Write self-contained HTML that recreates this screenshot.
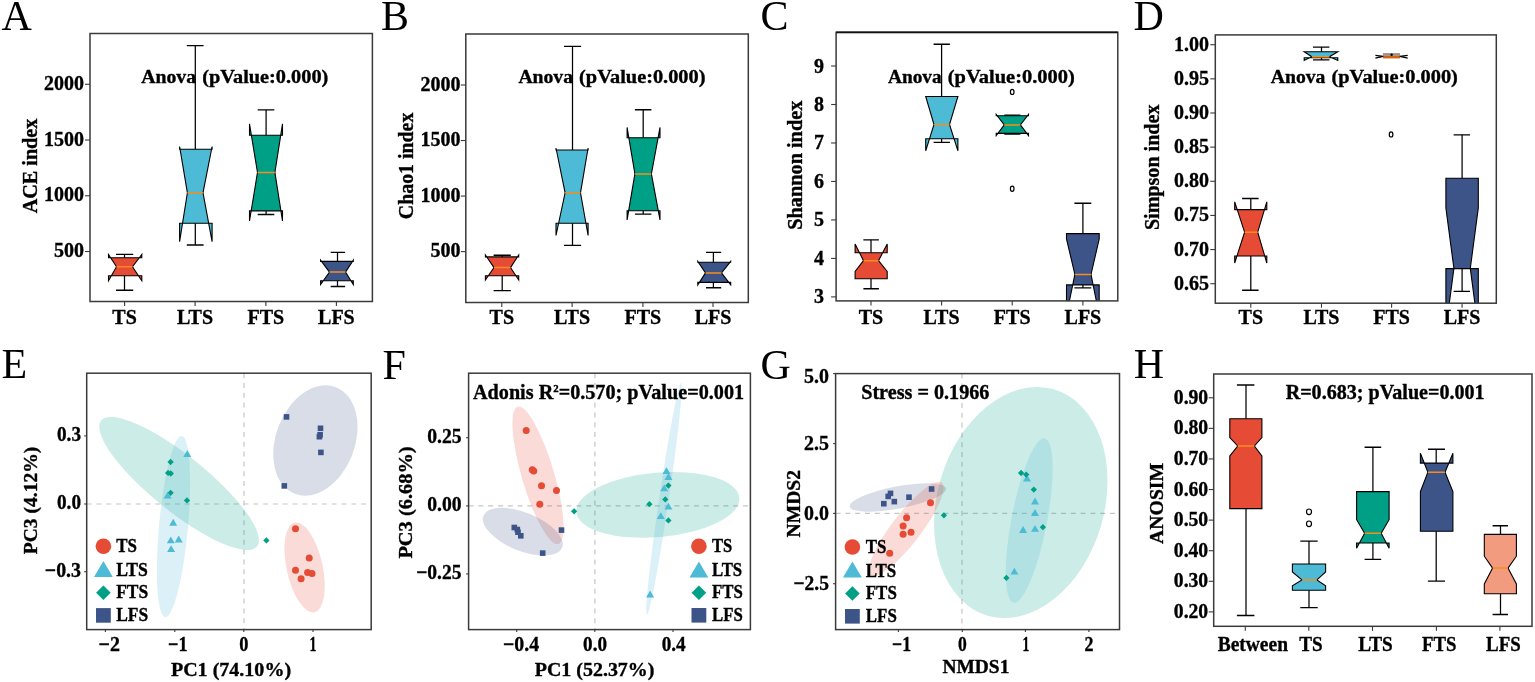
<!DOCTYPE html>
<html><head><meta charset="utf-8"><title>Figure</title>
<style>html,body{margin:0;padding:0;background:#fff;width:1535px;height:682px;overflow:hidden}svg{display:block}text[font-weight="bold"]{stroke:#000;stroke-width:0.35px}</style>
</head><body>
<svg width="1535" height="682" viewBox="0 0 1535 682" font-family="'Liberation Serif', 'Times New Roman', serif">
<defs><clipPath id="cA"><rect x="90" y="33.5" width="282.4" height="268"/></clipPath><clipPath id="cB"><rect x="465.8" y="34" width="282.5" height="268.5"/></clipPath><clipPath id="cC"><rect x="836.1" y="32.3" width="281.7" height="268.6"/></clipPath><clipPath id="cD"><rect x="1215.3" y="34.9" width="281" height="268.3"/></clipPath><clipPath id="cE"><rect x="86.7" y="373.2" width="284.5" height="256.4"/></clipPath><clipPath id="cF"><rect x="468.6" y="373.2" width="281.8" height="256.4"/></clipPath><clipPath id="cG"><rect x="835.6" y="373.6" width="283.9" height="256"/></clipPath><clipPath id="cH"><rect x="1213.7" y="374" width="318.3" height="252.3"/></clipPath></defs>
<rect width="1535" height="682" fill="#fff"/>
<text x="1.5" y="29.6" font-size="42" font-weight="normal" fill="#000">A</text>
<text x="381" y="29.6" font-size="42" font-weight="normal" fill="#000">B</text>
<text x="760.5" y="29.8" font-size="42" font-weight="normal" fill="#000">C</text>
<text x="1133.5" y="29.6" font-size="42" font-weight="normal" fill="#000">D</text>
<text x="1.5" y="378.2" font-size="42" font-weight="normal" fill="#000">E</text>
<text x="382.5" y="378.6" font-size="42" font-weight="normal" fill="#000">F</text>
<text x="760.5" y="378.6" font-size="42" font-weight="normal" fill="#000">G</text>
<text x="1133.8" y="378.4" font-size="42" font-weight="normal" fill="#000">H</text>
<g clip-path="url(#cA)">
<line x1="124.5" y1="257.7" x2="124.5" y2="254.4" stroke="#000" stroke-width="1.25"/>
<line x1="116" y1="254.4" x2="133.2" y2="254.4" stroke="#000" stroke-width="1.35"/>
<line x1="124.5" y1="275.8" x2="124.5" y2="290.2" stroke="#000" stroke-width="1.25"/>
<path d="M108.5 275.8 L141.8 275.8 L141.8 280.7 L132.5 266.7 L141.8 254.5 L141.8 257.7 L108.5 257.7 L108.5 254.5 L116.5 266.7 L108.5 280.7 Z" fill="#E64B35" stroke="#000" stroke-width="1.1" stroke-linejoin="miter"/>
<line x1="116" y1="290.2" x2="133.2" y2="290.2" stroke="#000" stroke-width="1.35"/>
<line x1="116.5" y1="266.7" x2="132.5" y2="266.7" stroke="#FA8C1E" stroke-width="1.5"/>
</g>
<g clip-path="url(#cA)">
<line x1="195.3" y1="149.2" x2="195.3" y2="45.6" stroke="#000" stroke-width="1.25"/>
<line x1="186.8" y1="45.6" x2="203.6" y2="45.6" stroke="#000" stroke-width="1.35"/>
<line x1="195.3" y1="223.2" x2="195.3" y2="245" stroke="#000" stroke-width="1.25"/>
<path d="M179.6 223.2 L212.1 223.2 L212.1 241.7 L203 192.8 L212.1 146.5 L212.1 149.2 L179.6 149.2 L179.6 146.5 L187.4 192.8 L179.6 241.7 Z" fill="#4DBBD5" stroke="#000" stroke-width="1.1" stroke-linejoin="miter"/>
<line x1="186.8" y1="245" x2="203.6" y2="245" stroke="#000" stroke-width="1.35"/>
<line x1="187.4" y1="192.8" x2="203" y2="192.8" stroke="#FA8C1E" stroke-width="1.5"/>
</g>
<g clip-path="url(#cA)">
<line x1="266.1" y1="135.2" x2="266.1" y2="109.9" stroke="#000" stroke-width="1.25"/>
<line x1="257.7" y1="109.9" x2="274.3" y2="109.9" stroke="#000" stroke-width="1.35"/>
<line x1="266.1" y1="210.9" x2="266.1" y2="214.5" stroke="#000" stroke-width="1.25"/>
<path d="M249.5 210.9 L282.5 210.9 L282.5 221 L274.9 172.4 L282.5 123.8 L282.5 135.2 L249.5 135.2 L249.5 123.8 L257.5 172.4 L249.5 221 Z" fill="#00A087" stroke="#000" stroke-width="1.1" stroke-linejoin="miter"/>
<line x1="257.7" y1="214.5" x2="274.3" y2="214.5" stroke="#000" stroke-width="1.35"/>
<line x1="257.5" y1="172.4" x2="274.9" y2="172.4" stroke="#FA8C1E" stroke-width="1.5"/>
</g>
<g clip-path="url(#cA)">
<line x1="337.5" y1="261.4" x2="337.5" y2="252.4" stroke="#000" stroke-width="1.25"/>
<line x1="330.7" y1="252.4" x2="345.1" y2="252.4" stroke="#000" stroke-width="1.35"/>
<line x1="337.5" y1="280.7" x2="337.5" y2="286.5" stroke="#000" stroke-width="1.25"/>
<path d="M320.6 280.7 L353.3 280.7 L353.3 284.5 L345.5 272.1 L353.3 260.2 L353.3 261.4 L320.6 261.4 L320.6 260.2 L329.5 272.1 L320.6 284.5 Z" fill="#3C5488" stroke="#000" stroke-width="1.1" stroke-linejoin="miter"/>
<line x1="330.7" y1="286.5" x2="345.1" y2="286.5" stroke="#000" stroke-width="1.35"/>
<line x1="329.5" y1="272.1" x2="345.5" y2="272.1" stroke="#FA8C1E" stroke-width="1.5"/>
</g>
<rect x="90" y="33.5" width="282.4" height="268" fill="none" stroke="#3a3a3a" stroke-width="1.5"/>
<line x1="85" y1="251.5" x2="90" y2="251.5" stroke="#3a3a3a" stroke-width="1.1"/>
<text x="84" y="257" font-size="21" font-weight="bold" fill="#000" text-anchor="end" textLength="30" lengthAdjust="spacingAndGlyphs">500</text>
<line x1="85" y1="195.76" x2="90" y2="195.76" stroke="#3a3a3a" stroke-width="1.1"/>
<text x="84" y="201.26" font-size="21" font-weight="bold" fill="#000" text-anchor="end" textLength="40" lengthAdjust="spacingAndGlyphs">1000</text>
<line x1="85" y1="140.03" x2="90" y2="140.03" stroke="#3a3a3a" stroke-width="1.1"/>
<text x="84" y="145.53" font-size="21" font-weight="bold" fill="#000" text-anchor="end" textLength="40" lengthAdjust="spacingAndGlyphs">1500</text>
<line x1="85" y1="84.29" x2="90" y2="84.29" stroke="#3a3a3a" stroke-width="1.1"/>
<text x="84" y="89.79" font-size="21" font-weight="bold" fill="#000" text-anchor="end" textLength="40" lengthAdjust="spacingAndGlyphs">2000</text>
<line x1="124.6" y1="301.5" x2="124.6" y2="306" stroke="#3a3a3a" stroke-width="1.1"/>
<text x="124.6" y="324.3" font-size="21" font-weight="bold" fill="#000" text-anchor="middle" textLength="24.46" lengthAdjust="spacingAndGlyphs">TS</text>
<line x1="195.1" y1="301.5" x2="195.1" y2="306" stroke="#3a3a3a" stroke-width="1.1"/>
<text x="195.1" y="324.3" font-size="21" font-weight="bold" fill="#000" text-anchor="middle" textLength="35.97" lengthAdjust="spacingAndGlyphs">LTS</text>
<line x1="265.9" y1="301.5" x2="265.9" y2="306" stroke="#3a3a3a" stroke-width="1.1"/>
<text x="265.9" y="324.3" font-size="21" font-weight="bold" fill="#000" text-anchor="middle" textLength="36.68" lengthAdjust="spacingAndGlyphs">FTS</text>
<line x1="336.4" y1="301.5" x2="336.4" y2="306" stroke="#3a3a3a" stroke-width="1.1"/>
<text x="336.4" y="324.3" font-size="21" font-weight="bold" fill="#000" text-anchor="middle" textLength="36.68" lengthAdjust="spacingAndGlyphs">LFS</text>
<text transform="translate(36.5 166) rotate(-90)" font-size="20" font-weight="bold" fill="#000" text-anchor="middle" textLength="94.7" lengthAdjust="spacingAndGlyphs">ACE index</text>
<text x="141.3" y="83.1" font-size="19.2" font-weight="bold" fill="#000" textLength="54.8" lengthAdjust="spacingAndGlyphs">Anova</text>
<text x="202.2" y="83.1" font-size="19.2" font-weight="bold" fill="#000" textLength="126.1" lengthAdjust="spacingAndGlyphs">(pValue:0.000)</text>
<g clip-path="url(#cB)">
<line x1="502.2" y1="256.9" x2="502.2" y2="255.2" stroke="#000" stroke-width="1.25"/>
<line x1="493.6" y1="255.2" x2="510.8" y2="255.2" stroke="#000" stroke-width="1.35"/>
<line x1="502.2" y1="275.8" x2="502.2" y2="290.6" stroke="#000" stroke-width="1.25"/>
<path d="M485.4 275.8 L518.7 275.8 L518.7 280 L510.5 267.6 L518.7 255 L518.7 256.9 L485.4 256.9 L485.4 255 L494 267.6 L485.4 280 Z" fill="#E64B35" stroke="#000" stroke-width="1.1" stroke-linejoin="miter"/>
<line x1="493.6" y1="290.6" x2="510.8" y2="290.6" stroke="#000" stroke-width="1.35"/>
<line x1="494" y1="267.6" x2="510.5" y2="267.6" stroke="#FA8C1E" stroke-width="1.5"/>
</g>
<g clip-path="url(#cB)">
<line x1="572.5" y1="150" x2="572.5" y2="46.4" stroke="#000" stroke-width="1.25"/>
<line x1="563.9" y1="46.4" x2="581.1" y2="46.4" stroke="#000" stroke-width="1.35"/>
<line x1="572.5" y1="223.2" x2="572.5" y2="245.4" stroke="#000" stroke-width="1.25"/>
<path d="M556 223.2 L588.1 223.2 L588.1 235.5 L580.5 192.8 L588.1 148 L588.1 150 L556 150 L556 148 L565.1 192.8 L556 235.5 Z" fill="#4DBBD5" stroke="#000" stroke-width="1.1" stroke-linejoin="miter"/>
<line x1="563.9" y1="245.4" x2="581.1" y2="245.4" stroke="#000" stroke-width="1.35"/>
<line x1="565.1" y1="192.8" x2="580.5" y2="192.8" stroke="#FA8C1E" stroke-width="1.5"/>
</g>
<g clip-path="url(#cB)">
<line x1="643.2" y1="137.7" x2="643.2" y2="109.7" stroke="#000" stroke-width="1.25"/>
<line x1="634.9" y1="109.7" x2="651.4" y2="109.7" stroke="#000" stroke-width="1.35"/>
<line x1="643.2" y1="210.8" x2="643.2" y2="214.1" stroke="#000" stroke-width="1.25"/>
<path d="M627.1 210.8 L660 210.8 L660 219.9 L651.4 173.9 L660 127.4 L660 137.7 L627.1 137.7 L627.1 127.4 L634.9 173.9 L627.1 219.9 Z" fill="#00A087" stroke="#000" stroke-width="1.1" stroke-linejoin="miter"/>
<line x1="634.9" y1="214.1" x2="651.4" y2="214.1" stroke="#000" stroke-width="1.35"/>
<line x1="634.9" y1="173.9" x2="651.4" y2="173.9" stroke="#FA8C1E" stroke-width="1.5"/>
</g>
<g clip-path="url(#cB)">
<line x1="713.4" y1="262.2" x2="713.4" y2="252.4" stroke="#000" stroke-width="1.25"/>
<line x1="706" y1="252.4" x2="721.2" y2="252.4" stroke="#000" stroke-width="1.35"/>
<line x1="713.4" y1="282.4" x2="713.4" y2="287.7" stroke="#000" stroke-width="1.25"/>
<path d="M697.8 282.4 L730.7 282.4 L730.7 284.8 L721.5 272.9 L730.7 261.4 L730.7 262.2 L697.8 262.2 L697.8 261.4 L705.5 272.9 L697.8 284.8 Z" fill="#3C5488" stroke="#000" stroke-width="1.1" stroke-linejoin="miter"/>
<line x1="706" y1="287.7" x2="721.2" y2="287.7" stroke="#000" stroke-width="1.35"/>
<line x1="705.5" y1="272.9" x2="721.5" y2="272.9" stroke="#FA8C1E" stroke-width="1.5"/>
</g>
<rect x="465.8" y="34" width="282.5" height="268.5" fill="none" stroke="#3a3a3a" stroke-width="1.5"/>
<line x1="460.8" y1="251.6" x2="465.8" y2="251.6" stroke="#3a3a3a" stroke-width="1.1"/>
<text x="460.5" y="257.1" font-size="21" font-weight="bold" fill="#000" text-anchor="end" textLength="30" lengthAdjust="spacingAndGlyphs">500</text>
<line x1="460.8" y1="196.06" x2="465.8" y2="196.06" stroke="#3a3a3a" stroke-width="1.1"/>
<text x="460.5" y="201.56" font-size="21" font-weight="bold" fill="#000" text-anchor="end" textLength="40" lengthAdjust="spacingAndGlyphs">1000</text>
<line x1="460.8" y1="140.53" x2="465.8" y2="140.53" stroke="#3a3a3a" stroke-width="1.1"/>
<text x="460.5" y="146.03" font-size="21" font-weight="bold" fill="#000" text-anchor="end" textLength="40" lengthAdjust="spacingAndGlyphs">1500</text>
<line x1="460.8" y1="85" x2="465.8" y2="85" stroke="#3a3a3a" stroke-width="1.1"/>
<text x="460.5" y="90.5" font-size="21" font-weight="bold" fill="#000" text-anchor="end" textLength="40" lengthAdjust="spacingAndGlyphs">2000</text>
<line x1="501.8" y1="302.5" x2="501.8" y2="307" stroke="#3a3a3a" stroke-width="1.1"/>
<text x="501.8" y="324.3" font-size="21" font-weight="bold" fill="#000" text-anchor="middle" textLength="24.46" lengthAdjust="spacingAndGlyphs">TS</text>
<line x1="572.1" y1="302.5" x2="572.1" y2="307" stroke="#3a3a3a" stroke-width="1.1"/>
<text x="572.1" y="324.3" font-size="21" font-weight="bold" fill="#000" text-anchor="middle" textLength="35.97" lengthAdjust="spacingAndGlyphs">LTS</text>
<line x1="642.9" y1="302.5" x2="642.9" y2="307" stroke="#3a3a3a" stroke-width="1.1"/>
<text x="642.9" y="324.3" font-size="21" font-weight="bold" fill="#000" text-anchor="middle" textLength="36.68" lengthAdjust="spacingAndGlyphs">FTS</text>
<line x1="713" y1="302.5" x2="713" y2="307" stroke="#3a3a3a" stroke-width="1.1"/>
<text x="713" y="324.3" font-size="21" font-weight="bold" fill="#000" text-anchor="middle" textLength="36.68" lengthAdjust="spacingAndGlyphs">LFS</text>
<text transform="translate(413 165.9) rotate(-90)" font-size="20" font-weight="bold" fill="#000" text-anchor="middle" textLength="106.5" lengthAdjust="spacingAndGlyphs">Chao1 index</text>
<text x="518.4" y="83.1" font-size="19.2" font-weight="bold" fill="#000" textLength="54.6" lengthAdjust="spacingAndGlyphs">Anova</text>
<text x="579.1" y="83.1" font-size="19.2" font-weight="bold" fill="#000" textLength="126.4" lengthAdjust="spacingAndGlyphs">(pValue:0.000)</text>
<g clip-path="url(#cC)">
<line x1="871" y1="252.7" x2="871" y2="239.8" stroke="#000" stroke-width="1.25"/>
<line x1="863.4" y1="239.8" x2="878.9" y2="239.8" stroke="#000" stroke-width="1.35"/>
<line x1="871" y1="278.7" x2="871" y2="288.7" stroke="#000" stroke-width="1.25"/>
<path d="M855.1 278.7 L887.2 278.7 L887.2 271.5 L878.5 260.7 L887.2 244 L887.2 252.7 L855.1 252.7 L855.1 244 L863.5 260.7 L855.1 271.5 Z" fill="#E64B35" stroke="#000" stroke-width="1.1" stroke-linejoin="miter"/>
<line x1="863.4" y1="288.7" x2="878.9" y2="288.7" stroke="#000" stroke-width="1.35"/>
<line x1="863.5" y1="260.7" x2="878.5" y2="260.7" stroke="#FA8C1E" stroke-width="1.5"/>
</g>
<g clip-path="url(#cC)">
<line x1="941.6" y1="96.5" x2="941.6" y2="44.2" stroke="#000" stroke-width="1.25"/>
<line x1="933.6" y1="44.2" x2="949.9" y2="44.2" stroke="#000" stroke-width="1.35"/>
<line x1="941.6" y1="138.7" x2="941.6" y2="142.4" stroke="#000" stroke-width="1.25"/>
<path d="M925.7 138.7 L957.9 138.7 L957.9 150.8 L949.5 124.5 L957.9 96.5 L957.9 96.5 L925.7 96.5 L925.7 96.5 L934 124.5 L925.7 150.8 Z" fill="#4DBBD5" stroke="#000" stroke-width="1.1" stroke-linejoin="miter"/>
<line x1="933.6" y1="142.4" x2="949.9" y2="142.4" stroke="#000" stroke-width="1.35"/>
<line x1="934" y1="124.5" x2="949.5" y2="124.5" stroke="#FA8C1E" stroke-width="1.5"/>
</g>
<g clip-path="url(#cC)">
<line x1="1012.3" y1="115.8" x2="1012.3" y2="115.1" stroke="#000" stroke-width="1.25"/>
<line x1="1004.3" y1="115.1" x2="1020.4" y2="115.1" stroke="#000" stroke-width="1.35"/>
<line x1="1012.3" y1="133.4" x2="1012.3" y2="134.1" stroke="#000" stroke-width="1.25"/>
<path d="M996.2 133.4 L1028.5 133.4 L1028.5 135.6 L1020.4 124.9 L1028.5 114.3 L1028.5 115.8 L996.2 115.8 L996.2 114.3 L1004.3 124.9 L996.2 135.6 Z" fill="#00A087" stroke="#000" stroke-width="1.1" stroke-linejoin="miter"/>
<line x1="1004.3" y1="134.1" x2="1020.4" y2="134.1" stroke="#000" stroke-width="1.35"/>
<line x1="1004.3" y1="124.9" x2="1020.4" y2="124.9" stroke="#FA8C1E" stroke-width="1.5"/>
</g>
<g clip-path="url(#cC)">
<line x1="1082.9" y1="233.6" x2="1082.9" y2="203.2" stroke="#000" stroke-width="1.25"/>
<line x1="1074.4" y1="203.2" x2="1091.3" y2="203.2" stroke="#000" stroke-width="1.35"/>
<line x1="1082.9" y1="284.9" x2="1082.9" y2="287.9" stroke="#000" stroke-width="1.25"/>
<path d="M1066.5 284.9 L1099.2 284.9 L1099.2 315 L1091 274.4 L1099.2 239 L1099.2 233.6 L1066.5 233.6 L1066.5 239 L1074.9 274.4 L1066.5 315 Z" fill="#3C5488" stroke="#000" stroke-width="1.1" stroke-linejoin="miter"/>
<line x1="1074.4" y1="287.9" x2="1091.3" y2="287.9" stroke="#000" stroke-width="1.35"/>
<line x1="1074.9" y1="274.4" x2="1091" y2="274.4" stroke="#FA8C1E" stroke-width="1.5"/>
</g>
<ellipse cx="1012.2" cy="91.9" rx="1.8" ry="2.6" fill="none" stroke="#000" stroke-width="1.2"/>
<ellipse cx="1012.2" cy="188.8" rx="1.8" ry="2.6" fill="none" stroke="#000" stroke-width="1.2"/>
<rect x="836.1" y="32.3" width="281.7" height="268.6" fill="none" stroke="#3a3a3a" stroke-width="1.5"/>
<line x1="836.1" y1="32.3" x2="1117.8" y2="32.3" stroke="#111" stroke-width="1.8"/>
<line x1="831.1" y1="296.9" x2="836.1" y2="296.9" stroke="#3a3a3a" stroke-width="1.1"/>
<text x="824" y="303.4" font-size="21" font-weight="bold" fill="#000" text-anchor="end" textLength="10" lengthAdjust="spacingAndGlyphs">3</text>
<line x1="831.1" y1="258.42" x2="836.1" y2="258.42" stroke="#3a3a3a" stroke-width="1.1"/>
<text x="824" y="264.92" font-size="21" font-weight="bold" fill="#000" text-anchor="end" textLength="10" lengthAdjust="spacingAndGlyphs">4</text>
<line x1="831.1" y1="219.94" x2="836.1" y2="219.94" stroke="#3a3a3a" stroke-width="1.1"/>
<text x="824" y="226.44" font-size="21" font-weight="bold" fill="#000" text-anchor="end" textLength="10" lengthAdjust="spacingAndGlyphs">5</text>
<line x1="831.1" y1="181.46" x2="836.1" y2="181.46" stroke="#3a3a3a" stroke-width="1.1"/>
<text x="824" y="187.96" font-size="21" font-weight="bold" fill="#000" text-anchor="end" textLength="10" lengthAdjust="spacingAndGlyphs">6</text>
<line x1="831.1" y1="142.98" x2="836.1" y2="142.98" stroke="#3a3a3a" stroke-width="1.1"/>
<text x="824" y="149.48" font-size="21" font-weight="bold" fill="#000" text-anchor="end" textLength="10" lengthAdjust="spacingAndGlyphs">7</text>
<line x1="831.1" y1="104.5" x2="836.1" y2="104.5" stroke="#3a3a3a" stroke-width="1.1"/>
<text x="824" y="111" font-size="21" font-weight="bold" fill="#000" text-anchor="end" textLength="10" lengthAdjust="spacingAndGlyphs">8</text>
<line x1="831.1" y1="66.02" x2="836.1" y2="66.02" stroke="#3a3a3a" stroke-width="1.1"/>
<text x="824" y="72.52" font-size="21" font-weight="bold" fill="#000" text-anchor="end" textLength="10" lengthAdjust="spacingAndGlyphs">9</text>
<line x1="871" y1="300.9" x2="871" y2="305.4" stroke="#3a3a3a" stroke-width="1.1"/>
<text x="871" y="323.5" font-size="21" font-weight="bold" fill="#000" text-anchor="middle" textLength="24.46" lengthAdjust="spacingAndGlyphs">TS</text>
<line x1="941.6" y1="300.9" x2="941.6" y2="305.4" stroke="#3a3a3a" stroke-width="1.1"/>
<text x="941.6" y="323.5" font-size="21" font-weight="bold" fill="#000" text-anchor="middle" textLength="35.97" lengthAdjust="spacingAndGlyphs">LTS</text>
<line x1="1012.2" y1="300.9" x2="1012.2" y2="305.4" stroke="#3a3a3a" stroke-width="1.1"/>
<text x="1012.2" y="323.5" font-size="21" font-weight="bold" fill="#000" text-anchor="middle" textLength="36.68" lengthAdjust="spacingAndGlyphs">FTS</text>
<line x1="1082.9" y1="300.9" x2="1082.9" y2="305.4" stroke="#3a3a3a" stroke-width="1.1"/>
<text x="1082.9" y="323.5" font-size="21" font-weight="bold" fill="#000" text-anchor="middle" textLength="36.68" lengthAdjust="spacingAndGlyphs">LFS</text>
<text transform="translate(801.8 165.2) rotate(-90)" font-size="20" font-weight="bold" fill="#000" text-anchor="middle" textLength="129" lengthAdjust="spacingAndGlyphs">Shannon index</text>
<text x="888" y="82.9" font-size="19.2" font-weight="bold" fill="#000" textLength="53.7" lengthAdjust="spacingAndGlyphs">Anova</text>
<text x="947.8" y="82.9" font-size="19.2" font-weight="bold" fill="#000" textLength="127" lengthAdjust="spacingAndGlyphs">(pValue:0.000)</text>
<g clip-path="url(#cD)">
<line x1="1250.8" y1="209.6" x2="1250.8" y2="198.5" stroke="#000" stroke-width="1.25"/>
<line x1="1242.1" y1="198.5" x2="1258.6" y2="198.5" stroke="#000" stroke-width="1.35"/>
<line x1="1250.8" y1="256" x2="1250.8" y2="290.2" stroke="#000" stroke-width="1.25"/>
<path d="M1234.7 256 L1266.8 256 L1266.8 263 L1257.7 232.2 L1266.8 201.8 L1266.8 209.6 L1234.7 209.6 L1234.7 201.8 L1244.6 232.2 L1234.7 263 Z" fill="#E64B35" stroke="#000" stroke-width="1.1" stroke-linejoin="miter"/>
<line x1="1242.1" y1="290.2" x2="1258.6" y2="290.2" stroke="#000" stroke-width="1.35"/>
<line x1="1244.6" y1="232.2" x2="1257.7" y2="232.2" stroke="#FA8C1E" stroke-width="1.5"/>
</g>
<g clip-path="url(#cD)">
<line x1="1321.5" y1="51.8" x2="1321.5" y2="47.1" stroke="#000" stroke-width="1.25"/>
<line x1="1313" y1="47.1" x2="1329.4" y2="47.1" stroke="#000" stroke-width="1.35"/>
<line x1="1321.5" y1="57.7" x2="1321.5" y2="59.9" stroke="#000" stroke-width="1.25"/>
<path d="M1304.2 57.7 L1337.8 57.7 L1337.8 60.4 L1329.4 56.7 L1337.8 51.8 L1337.8 51.8 L1304.2 51.8 L1304.2 51.8 L1311.8 56.7 L1304.2 60.4 Z" fill="#4DBBD5" stroke="#000" stroke-width="1.1" stroke-linejoin="miter"/>
<line x1="1313" y1="59.9" x2="1329.4" y2="59.9" stroke="#000" stroke-width="1.35"/>
<line x1="1311.8" y1="56.7" x2="1329.4" y2="56.7" stroke="#FA8C1E" stroke-width="1.5"/>
</g>
<rect x="1383" y="53.1" width="17" height="2.5" fill="#8d949b"/>
<rect x="1383" y="55.5" width="17" height="2.9" fill="#cf6414"/>
<path d="M1375.4 55.3 L1383.2 56.3 L1375.4 58.1" fill="none" stroke="#000" stroke-width="1.3"/>
<path d="M1407.7 55.3 L1399.8 56.3 L1407.7 58.1" fill="none" stroke="#000" stroke-width="1.3"/>
<circle cx="1391.6" cy="54.8" r="1.2" fill="#000"/>
<g clip-path="url(#cD)">
<line x1="1462.1" y1="178.2" x2="1462.1" y2="134.8" stroke="#000" stroke-width="1.25"/>
<line x1="1453.6" y1="134.8" x2="1470" y2="134.8" stroke="#000" stroke-width="1.35"/>
<line x1="1462.1" y1="268.6" x2="1462.1" y2="291.4" stroke="#000" stroke-width="1.25"/>
<path d="M1445.9 268.6 L1478.3 268.6 L1478.3 329 L1470.3 268.4 L1478.3 207.9 L1478.3 178.2 L1445.9 178.2 L1445.9 207.9 L1453.9 268.4 L1445.9 329 Z" fill="#3C5488" stroke="#000" stroke-width="1.1" stroke-linejoin="miter"/>
<line x1="1453.6" y1="291.4" x2="1470" y2="291.4" stroke="#000" stroke-width="1.35"/>
</g>
<ellipse cx="1391.1" cy="134.4" rx="1.8" ry="2.6" fill="none" stroke="#000" stroke-width="1.2"/>
<rect x="1215.3" y="34.9" width="281" height="268.3" fill="none" stroke="#3a3a3a" stroke-width="1.5"/>
<line x1="1210.3" y1="44.7" x2="1215.3" y2="44.7" stroke="#3a3a3a" stroke-width="1.1"/>
<text x="1209" y="50.7" font-size="21" font-weight="bold" fill="#000" text-anchor="end" textLength="35" lengthAdjust="spacingAndGlyphs">1.00</text>
<line x1="1210.3" y1="78.85" x2="1215.3" y2="78.85" stroke="#3a3a3a" stroke-width="1.1"/>
<text x="1209" y="84.85" font-size="21" font-weight="bold" fill="#000" text-anchor="end" textLength="35" lengthAdjust="spacingAndGlyphs">0.95</text>
<line x1="1210.3" y1="112.99" x2="1215.3" y2="112.99" stroke="#3a3a3a" stroke-width="1.1"/>
<text x="1209" y="118.99" font-size="21" font-weight="bold" fill="#000" text-anchor="end" textLength="35" lengthAdjust="spacingAndGlyphs">0.90</text>
<line x1="1210.3" y1="147.14" x2="1215.3" y2="147.14" stroke="#3a3a3a" stroke-width="1.1"/>
<text x="1209" y="153.14" font-size="21" font-weight="bold" fill="#000" text-anchor="end" textLength="35" lengthAdjust="spacingAndGlyphs">0.85</text>
<line x1="1210.3" y1="181.28" x2="1215.3" y2="181.28" stroke="#3a3a3a" stroke-width="1.1"/>
<text x="1209" y="187.28" font-size="21" font-weight="bold" fill="#000" text-anchor="end" textLength="35" lengthAdjust="spacingAndGlyphs">0.80</text>
<line x1="1210.3" y1="215.43" x2="1215.3" y2="215.43" stroke="#3a3a3a" stroke-width="1.1"/>
<text x="1209" y="221.43" font-size="21" font-weight="bold" fill="#000" text-anchor="end" textLength="35" lengthAdjust="spacingAndGlyphs">0.75</text>
<line x1="1210.3" y1="249.57" x2="1215.3" y2="249.57" stroke="#3a3a3a" stroke-width="1.1"/>
<text x="1209" y="255.57" font-size="21" font-weight="bold" fill="#000" text-anchor="end" textLength="35" lengthAdjust="spacingAndGlyphs">0.70</text>
<line x1="1210.3" y1="283.71" x2="1215.3" y2="283.71" stroke="#3a3a3a" stroke-width="1.1"/>
<text x="1209" y="289.71" font-size="21" font-weight="bold" fill="#000" text-anchor="end" textLength="35" lengthAdjust="spacingAndGlyphs">0.65</text>
<line x1="1250.8" y1="303.2" x2="1250.8" y2="307.7" stroke="#3a3a3a" stroke-width="1.1"/>
<text x="1250.8" y="324.2" font-size="21" font-weight="bold" fill="#000" text-anchor="middle" textLength="24.46" lengthAdjust="spacingAndGlyphs">TS</text>
<line x1="1321.5" y1="303.2" x2="1321.5" y2="307.7" stroke="#3a3a3a" stroke-width="1.1"/>
<text x="1321.5" y="324.2" font-size="21" font-weight="bold" fill="#000" text-anchor="middle" textLength="35.97" lengthAdjust="spacingAndGlyphs">LTS</text>
<line x1="1391.6" y1="303.2" x2="1391.6" y2="307.7" stroke="#3a3a3a" stroke-width="1.1"/>
<text x="1391.6" y="324.2" font-size="21" font-weight="bold" fill="#000" text-anchor="middle" textLength="36.68" lengthAdjust="spacingAndGlyphs">FTS</text>
<line x1="1462.1" y1="303.2" x2="1462.1" y2="307.7" stroke="#3a3a3a" stroke-width="1.1"/>
<text x="1462.1" y="324.2" font-size="21" font-weight="bold" fill="#000" text-anchor="middle" textLength="36.68" lengthAdjust="spacingAndGlyphs">LFS</text>
<text transform="translate(1159 167.3) rotate(-90)" font-size="20" font-weight="bold" fill="#000" text-anchor="middle" textLength="125.6" lengthAdjust="spacingAndGlyphs">Simpson index</text>
<text x="1270.8" y="83.2" font-size="19.2" font-weight="bold" fill="#000" textLength="54.6" lengthAdjust="spacingAndGlyphs">Anova</text>
<text x="1331.5" y="83.2" font-size="19.2" font-weight="bold" fill="#000" textLength="126.4" lengthAdjust="spacingAndGlyphs">(pValue:0.000)</text>
<line x1="244" y1="373.2" x2="244" y2="629.6" stroke="#c6c6c6" stroke-width="1.2" stroke-dasharray="5 4.8"/>
<line x1="86.7" y1="504" x2="371.2" y2="504" stroke="#c6c6c6" stroke-width="1.2" stroke-dasharray="5 4.8"/>
<g clip-path="url(#cE)"><ellipse cx="179.1" cy="483.5" rx="100.2" ry="27.7" transform="rotate(38.9 179.1 483.5)" fill="#00A087" fill-opacity="0.2"/></g>
<g clip-path="url(#cE)"><ellipse cx="173.5" cy="526.6" rx="91" ry="14.5" transform="rotate(95.2 173.5 526.6)" fill="#4DBBD5" fill-opacity="0.2"/></g>
<g clip-path="url(#cE)"><ellipse cx="304.6" cy="567.4" rx="45.9" ry="18" transform="rotate(77.6 304.6 567.4)" fill="#E64B35" fill-opacity="0.2"/></g>
<g clip-path="url(#cE)"><ellipse cx="315.4" cy="440.5" rx="57.1" ry="39.5" transform="rotate(-69 315.4 440.5)" fill="#3C5488" fill-opacity="0.2"/></g>
<rect x="283.7" y="414.1" width="5.6" height="5.6" fill="#3C5488"/>
<rect x="317.7" y="425.5" width="5.6" height="5.6" fill="#3C5488"/>
<rect x="317.3" y="432" width="5.6" height="5.6" fill="#3C5488"/>
<rect x="316.6" y="433.9" width="5.6" height="5.6" fill="#3C5488"/>
<rect x="318.1" y="449.6" width="5.6" height="5.6" fill="#3C5488"/>
<rect x="281.5" y="483.1" width="5.6" height="5.6" fill="#3C5488"/>
<polygon points="170.6,458.85 173.75,462 170.6,465.15 167.45,462" fill="#00A087"/>
<polygon points="168.1,469.75 171.25,472.9 168.1,476.05 164.95,472.9" fill="#00A087"/>
<polygon points="170.8,470.35 173.95,473.5 170.8,476.65 167.65,473.5" fill="#00A087"/>
<polygon points="170.6,489.65 173.75,492.8 170.6,495.95 167.45,492.8" fill="#00A087"/>
<polygon points="187,497.25 190.15,500.4 187,503.55 183.85,500.4" fill="#00A087"/>
<polygon points="266.4,537.25 269.55,540.4 266.4,543.55 263.25,540.4" fill="#00A087"/>
<polygon points="187.3,450.12 183.3,457.02 191.3,457.02" fill="#4DBBD5"/>
<polygon points="167.6,491.72 163.6,498.62 171.6,498.62" fill="#4DBBD5"/>
<polygon points="173.2,518.82 169.2,525.72 177.2,525.72" fill="#4DBBD5"/>
<polygon points="170.8,536.42 166.8,543.32 174.8,543.32" fill="#4DBBD5"/>
<polygon points="178.7,535.52 174.7,542.42 182.7,542.42" fill="#4DBBD5"/>
<polygon points="171.1,545.22 167.1,552.12 175.1,552.12" fill="#4DBBD5"/>
<circle cx="295.5" cy="528.8" r="3.5" fill="#E64B35"/>
<circle cx="309.2" cy="558" r="3.5" fill="#E64B35"/>
<circle cx="295.5" cy="570.2" r="3.5" fill="#E64B35"/>
<circle cx="307.6" cy="572.6" r="3.5" fill="#E64B35"/>
<circle cx="312" cy="573.5" r="3.5" fill="#E64B35"/>
<circle cx="301.1" cy="578.8" r="3.5" fill="#E64B35"/>
<circle cx="103.4" cy="546.2" r="7.8" fill="#E64B35"/>
<polygon points="103.4,561 94,577.1 112.8,577.1" fill="#4DBBD5"/>
<polygon points="103.4,585.5 110.7,592.8 103.4,600.1 96.1,592.8" fill="#00A087"/>
<rect x="96" y="608.1" width="14.8" height="14.6" fill="#3C5488"/>
<text x="116.2" y="552" font-size="19" font-weight="bold" fill="#000" textLength="20.7" lengthAdjust="spacingAndGlyphs">TS</text>
<text x="116.2" y="575.8" font-size="19" font-weight="bold" fill="#000" textLength="31.7" lengthAdjust="spacingAndGlyphs">LTS</text>
<text x="116.2" y="597.8" font-size="19" font-weight="bold" fill="#000" textLength="32" lengthAdjust="spacingAndGlyphs">FTS</text>
<text x="116.2" y="620.7" font-size="19" font-weight="bold" fill="#000" textLength="32" lengthAdjust="spacingAndGlyphs">LFS</text>
<rect x="86.7" y="373.2" width="284.5" height="256.4" fill="none" stroke="#3a3a3a" stroke-width="1.5"/>
<line x1="84.2" y1="435.9" x2="86.7" y2="435.9" stroke="#3a3a3a" stroke-width="1.1"/>
<text x="81" y="441" font-size="21" font-weight="bold" fill="#000" text-anchor="end" textLength="24" lengthAdjust="spacingAndGlyphs">0.3</text>
<line x1="84.2" y1="504" x2="86.7" y2="504" stroke="#3a3a3a" stroke-width="1.1"/>
<text x="81" y="509" font-size="21" font-weight="bold" fill="#000" text-anchor="end" textLength="24" lengthAdjust="spacingAndGlyphs">0.0</text>
<line x1="84.2" y1="571.7" x2="86.7" y2="571.7" stroke="#3a3a3a" stroke-width="1.1"/>
<text x="81" y="577.2" font-size="21" font-weight="bold" fill="#000" text-anchor="end" textLength="36.2" lengthAdjust="spacingAndGlyphs">&#8722;0.3</text>
<line x1="105.4" y1="629.6" x2="105.4" y2="632.1" stroke="#3a3a3a" stroke-width="1.1"/>
<line x1="174.8" y1="629.6" x2="174.8" y2="632.1" stroke="#3a3a3a" stroke-width="1.1"/>
<line x1="243.8" y1="629.6" x2="243.8" y2="632.1" stroke="#3a3a3a" stroke-width="1.1"/>
<line x1="313" y1="629.6" x2="313" y2="632.1" stroke="#3a3a3a" stroke-width="1.1"/>
<text x="98.6" y="651.3" font-size="21" font-weight="bold" fill="#000" textLength="21.4" lengthAdjust="spacingAndGlyphs">&#8722;2</text>
<text x="168" y="651.3" font-size="21" font-weight="bold" fill="#000" textLength="19.5" lengthAdjust="spacingAndGlyphs">&#8722;1</text>
<text x="239.3" y="651.3" font-size="21" font-weight="bold" fill="#000" textLength="9.2" lengthAdjust="spacingAndGlyphs">0</text>
<text x="309.6" y="651.3" font-size="21" font-weight="bold" fill="#000" textLength="6.9" lengthAdjust="spacingAndGlyphs">1</text>
<text x="170.9" y="675.7" font-size="19.5" font-weight="bold" fill="#000" textLength="120.2" lengthAdjust="spacingAndGlyphs">PC1 (74.10%)</text>
<text transform="translate(37.3 500.5) rotate(-90)" font-size="19.5" font-weight="bold" fill="#000" text-anchor="middle" textLength="107.4" lengthAdjust="spacingAndGlyphs">PC3 (4.12%)</text>
<line x1="594.9" y1="373.2" x2="594.9" y2="629.6" stroke="#c6c6c6" stroke-width="1.2" stroke-dasharray="5 4.8"/>
<line x1="468.6" y1="505.9" x2="750.4" y2="505.9" stroke="#c6c6c6" stroke-width="1.2" stroke-dasharray="5 4.8"/>
<g clip-path="url(#cF)"><ellipse cx="538" cy="475.3" rx="71.6" ry="16.2" transform="rotate(73.5 538 475.3)" fill="#E64B35" fill-opacity="0.2"/></g>
<g clip-path="url(#cF)"><ellipse cx="522.8" cy="531.7" rx="42.5" ry="19.1" transform="rotate(22.2 522.8 531.7)" fill="#3C5488" fill-opacity="0.2"/></g>
<g clip-path="url(#cF)"><ellipse cx="657.9" cy="504.9" rx="81.8" ry="32.2" transform="rotate(-5.1 657.9 504.9)" fill="#00A087" fill-opacity="0.2"/></g>
<g clip-path="url(#cF)"><ellipse cx="664" cy="498.8" rx="117" ry="4.8" transform="rotate(98.4 664 498.8)" fill="#4DBBD5" fill-opacity="0.2"/></g>
<circle cx="526.2" cy="430.4" r="3.5" fill="#E64B35"/>
<circle cx="532.3" cy="469.7" r="3.5" fill="#E64B35"/>
<circle cx="533.7" cy="471.1" r="3.5" fill="#E64B35"/>
<circle cx="541.5" cy="485.8" r="3.5" fill="#E64B35"/>
<circle cx="556.5" cy="490.6" r="3.5" fill="#E64B35"/>
<circle cx="539.8" cy="504.3" r="3.5" fill="#E64B35"/>
<rect x="511.5" y="524.7" width="5.6" height="5.6" fill="#3C5488"/>
<rect x="514.5" y="526.7" width="5.6" height="5.6" fill="#3C5488"/>
<rect x="515.2" y="529.4" width="5.6" height="5.6" fill="#3C5488"/>
<rect x="518" y="533" width="5.6" height="5.6" fill="#3C5488"/>
<rect x="558.7" y="527.3" width="5.6" height="5.6" fill="#3C5488"/>
<rect x="539.9" y="550.3" width="5.6" height="5.6" fill="#3C5488"/>
<polygon points="668.4,482.45 671.55,485.6 668.4,488.75 665.25,485.6" fill="#00A087"/>
<polygon points="665.3,496.25 668.45,499.4 665.3,502.55 662.15,499.4" fill="#00A087"/>
<polygon points="649.4,501.05 652.55,504.2 649.4,507.35 646.25,504.2" fill="#00A087"/>
<polygon points="668.4,517.25 671.55,520.4 668.4,523.55 665.25,520.4" fill="#00A087"/>
<polygon points="574.1,508.15 577.25,511.3 574.1,514.45 570.95,511.3" fill="#00A087"/>
<polygon points="666.5,467.22 662.5,474.12 670.5,474.12" fill="#4DBBD5"/>
<polygon points="668.4,473.02 664.4,479.92 672.4,479.92" fill="#4DBBD5"/>
<polygon points="664.2,484.42 660.2,491.32 668.2,491.32" fill="#4DBBD5"/>
<polygon points="668.4,502.72 664.4,509.62 672.4,509.62" fill="#4DBBD5"/>
<polygon points="660.8,512.22 656.8,519.12 664.8,519.12" fill="#4DBBD5"/>
<polygon points="650.1,590.52 646.1,597.42 654.1,597.42" fill="#4DBBD5"/>
<circle cx="698.9" cy="546.2" r="7.8" fill="#E64B35"/>
<polygon points="698.9,561.5 689.5,577.6 708.3,577.6" fill="#4DBBD5"/>
<polygon points="698.9,585.5 706.2,592.8 698.9,600.1 691.6,592.8" fill="#00A087"/>
<rect x="691.5" y="608" width="14.8" height="14.6" fill="#3C5488"/>
<text x="712" y="551.8" font-size="19" font-weight="bold" fill="#000" textLength="20.3" lengthAdjust="spacingAndGlyphs">TS</text>
<text x="712" y="576" font-size="19" font-weight="bold" fill="#000" textLength="30.2" lengthAdjust="spacingAndGlyphs">LTS</text>
<text x="712" y="597.8" font-size="19" font-weight="bold" fill="#000" textLength="30.8" lengthAdjust="spacingAndGlyphs">FTS</text>
<text x="712" y="620.7" font-size="19" font-weight="bold" fill="#000" textLength="30.8" lengthAdjust="spacingAndGlyphs">LFS</text>
<rect x="468.6" y="373.2" width="281.8" height="256.4" fill="none" stroke="#3a3a3a" stroke-width="1.5"/>
<line x1="466.1" y1="437.7" x2="468.6" y2="437.7" stroke="#3a3a3a" stroke-width="1.1"/>
<text x="461.6" y="443.2" font-size="21" font-weight="bold" fill="#000" text-anchor="end" textLength="34.4" lengthAdjust="spacingAndGlyphs">0.25</text>
<line x1="466.1" y1="505.9" x2="468.6" y2="505.9" stroke="#3a3a3a" stroke-width="1.1"/>
<text x="461.6" y="511.4" font-size="21" font-weight="bold" fill="#000" text-anchor="end" textLength="34.4" lengthAdjust="spacingAndGlyphs">0.00</text>
<line x1="466.1" y1="573.9" x2="468.6" y2="573.9" stroke="#3a3a3a" stroke-width="1.1"/>
<text x="461.6" y="579.4" font-size="21" font-weight="bold" fill="#000" text-anchor="end" textLength="45.4" lengthAdjust="spacingAndGlyphs">&#8722;0.25</text>
<line x1="516.7" y1="629.6" x2="516.7" y2="632.1" stroke="#3a3a3a" stroke-width="1.1"/>
<line x1="594.8" y1="629.6" x2="594.8" y2="632.1" stroke="#3a3a3a" stroke-width="1.1"/>
<line x1="673" y1="629.6" x2="673" y2="632.1" stroke="#3a3a3a" stroke-width="1.1"/>
<text x="503" y="651.3" font-size="21" font-weight="bold" fill="#000" textLength="36.1" lengthAdjust="spacingAndGlyphs">&#8722;0.4</text>
<text x="583.1" y="651.3" font-size="21" font-weight="bold" fill="#000" textLength="23.9" lengthAdjust="spacingAndGlyphs">0.0</text>
<text x="661.7" y="651.3" font-size="21" font-weight="bold" fill="#000" textLength="24" lengthAdjust="spacingAndGlyphs">0.4</text>
<text x="534.8" y="675.7" font-size="19.5" font-weight="bold" fill="#000" textLength="119.6" lengthAdjust="spacingAndGlyphs">PC1 (52.37%)</text>
<text transform="translate(411.5 502.5) rotate(-90)" font-size="19.5" font-weight="bold" fill="#000" text-anchor="middle" textLength="112.2" lengthAdjust="spacingAndGlyphs">PC3 (6.68%)</text>
<text x="473" y="398.8" font-size="20.5" font-weight="bold" textLength="271.1" lengthAdjust="spacingAndGlyphs">Adonis R<tspan font-size="11" dy="-7">2</tspan><tspan dy="7">=0.570; pValue=0.001</tspan></text>
<line x1="962" y1="373.6" x2="962" y2="629.6" stroke="#c6c6c6" stroke-width="1.2" stroke-dasharray="5 4.8"/>
<line x1="835.6" y1="513.4" x2="1119.5" y2="513.4" stroke="#c6c6c6" stroke-width="1.2" stroke-dasharray="5 4.8"/>
<g clip-path="url(#cG)"><ellipse cx="1020.8" cy="502.5" rx="117.9" ry="83.5" transform="rotate(-73.7 1020.8 502.5)" fill="#00A087" fill-opacity="0.2"/></g>
<g clip-path="url(#cG)"><ellipse cx="1029.2" cy="520.5" rx="83.6" ry="17.8" transform="rotate(-79.2 1029.2 520.5)" fill="#4DBBD5" fill-opacity="0.2"/></g>
<g clip-path="url(#cG)"><ellipse cx="897.9" cy="497.5" rx="49" ry="11.1" transform="rotate(-10.7 897.9 497.5)" fill="#3C5488" fill-opacity="0.2"/></g>
<g clip-path="url(#cG)"><ellipse cx="906.2" cy="529" rx="58.5" ry="14.6" transform="rotate(-52.5 906.2 529)" fill="#E64B35" fill-opacity="0.2"/></g>
<rect x="881" y="500.9" width="5.6" height="5.6" fill="#3C5488"/>
<rect x="885.4" y="493.6" width="5.6" height="5.6" fill="#3C5488"/>
<rect x="887.7" y="490.6" width="5.6" height="5.6" fill="#3C5488"/>
<rect x="891.5" y="498.8" width="5.6" height="5.6" fill="#3C5488"/>
<rect x="906.2" y="494.4" width="5.6" height="5.6" fill="#3C5488"/>
<rect x="928.8" y="486.2" width="5.6" height="5.6" fill="#3C5488"/>
<circle cx="930.5" cy="502.8" r="3.5" fill="#E64B35"/>
<circle cx="906.6" cy="517.7" r="3.5" fill="#E64B35"/>
<circle cx="903.1" cy="526.1" r="3.5" fill="#E64B35"/>
<circle cx="903.1" cy="534.2" r="3.5" fill="#E64B35"/>
<circle cx="911" cy="532.2" r="3.5" fill="#E64B35"/>
<circle cx="889.7" cy="553.3" r="3.5" fill="#E64B35"/>
<polygon points="1027,474.62 1023,481.52 1031,481.52" fill="#4DBBD5"/>
<polygon points="1035,497.62 1031,504.52 1039,504.52" fill="#4DBBD5"/>
<polygon points="1035,509.12 1031,516.02 1039,516.02" fill="#4DBBD5"/>
<polygon points="1023.1,526.12 1019.1,533.02 1027.1,533.02" fill="#4DBBD5"/>
<polygon points="1035,524.92 1031,531.82 1039,531.82" fill="#4DBBD5"/>
<polygon points="1014.4,567.72 1010.4,574.62 1018.4,574.62" fill="#4DBBD5"/>
<polygon points="1021.1,469.85 1024.25,473 1021.1,476.15 1017.95,473" fill="#00A087"/>
<polygon points="1026.2,471.45 1029.35,474.6 1026.2,477.75 1023.05,474.6" fill="#00A087"/>
<polygon points="1033.8,486.45 1036.95,489.6 1033.8,492.75 1030.65,489.6" fill="#00A087"/>
<polygon points="1042.9,524.05 1046.05,527.2 1042.9,530.35 1039.75,527.2" fill="#00A087"/>
<polygon points="1006.4,574.75 1009.55,577.9 1006.4,581.05 1003.25,577.9" fill="#00A087"/>
<polygon points="943.9,512.15 947.05,515.3 943.9,518.45 940.75,515.3" fill="#00A087"/>
<circle cx="852.4" cy="547" r="7.8" fill="#E64B35"/>
<polygon points="852.4,561.5 843,577.6 861.8,577.6" fill="#4DBBD5"/>
<polygon points="852.4,586.2 859.7,593.5 852.4,600.8 845.1,593.5" fill="#00A087"/>
<rect x="845" y="609" width="14.8" height="14.6" fill="#3C5488"/>
<text x="865.8" y="552.6" font-size="19" font-weight="bold" fill="#000" textLength="20.7" lengthAdjust="spacingAndGlyphs">TS</text>
<text x="865.8" y="576.9" font-size="19" font-weight="bold" fill="#000" textLength="30.5" lengthAdjust="spacingAndGlyphs">LTS</text>
<text x="865.8" y="598.5" font-size="19" font-weight="bold" fill="#000" textLength="31" lengthAdjust="spacingAndGlyphs">FTS</text>
<text x="865.8" y="621.6" font-size="19" font-weight="bold" fill="#000" textLength="31" lengthAdjust="spacingAndGlyphs">LFS</text>
<rect x="835.6" y="373.6" width="283.9" height="256" fill="none" stroke="#3a3a3a" stroke-width="1.5"/>
<line x1="833.1" y1="373.6" x2="835.6" y2="373.6" stroke="#3a3a3a" stroke-width="1.1"/>
<text x="829" y="383.3" font-size="21" font-weight="bold" fill="#000" text-anchor="end" textLength="24.9" lengthAdjust="spacingAndGlyphs">5.0</text>
<line x1="833.1" y1="443.6" x2="835.6" y2="443.6" stroke="#3a3a3a" stroke-width="1.1"/>
<text x="829" y="449.6" font-size="21" font-weight="bold" fill="#000" text-anchor="end" textLength="24.9" lengthAdjust="spacingAndGlyphs">2.5</text>
<line x1="833.1" y1="513.4" x2="835.6" y2="513.4" stroke="#3a3a3a" stroke-width="1.1"/>
<text x="829" y="520.3" font-size="21" font-weight="bold" fill="#000" text-anchor="end" textLength="24.9" lengthAdjust="spacingAndGlyphs">0.0</text>
<line x1="833.1" y1="583.7" x2="835.6" y2="583.7" stroke="#3a3a3a" stroke-width="1.1"/>
<text x="829" y="589.5" font-size="21" font-weight="bold" fill="#000" text-anchor="end" textLength="35.5" lengthAdjust="spacingAndGlyphs">&#8722;2.5</text>
<line x1="898.4" y1="629.6" x2="898.4" y2="632.1" stroke="#3a3a3a" stroke-width="1.1"/>
<line x1="962.3" y1="629.6" x2="962.3" y2="632.1" stroke="#3a3a3a" stroke-width="1.1"/>
<line x1="1025.4" y1="629.6" x2="1025.4" y2="632.1" stroke="#3a3a3a" stroke-width="1.1"/>
<line x1="1088.9" y1="629.6" x2="1088.9" y2="632.1" stroke="#3a3a3a" stroke-width="1.1"/>
<text x="892.1" y="651.3" font-size="21" font-weight="bold" fill="#000" textLength="19" lengthAdjust="spacingAndGlyphs">&#8722;1</text>
<text x="958" y="651.3" font-size="21" font-weight="bold" fill="#000" textLength="8.8" lengthAdjust="spacingAndGlyphs">0</text>
<text x="1022.5" y="651.3" font-size="21" font-weight="bold" fill="#000" textLength="6.8" lengthAdjust="spacingAndGlyphs">1</text>
<text x="1084.4" y="651.3" font-size="21" font-weight="bold" fill="#000" textLength="9" lengthAdjust="spacingAndGlyphs">2</text>
<text x="942.4" y="673.2" font-size="19.5" font-weight="bold" fill="#000" textLength="67" lengthAdjust="spacingAndGlyphs">NMDS1</text>
<text transform="translate(799.6 503.7) rotate(-90)" font-size="19.5" font-weight="bold" fill="#000" text-anchor="middle" textLength="67.4" lengthAdjust="spacingAndGlyphs">NMDS2</text>
<text x="861.2" y="399" font-size="20" font-weight="bold" fill="#000" textLength="128.2" lengthAdjust="spacingAndGlyphs">Stress = 0.1966</text>
<g clip-path="url(#cH)">
<line x1="1246" y1="418.7" x2="1246" y2="385" stroke="#000" stroke-width="1.25"/>
<line x1="1236.9" y1="385" x2="1254.4" y2="385" stroke="#000" stroke-width="1.35"/>
<line x1="1246" y1="508.6" x2="1246" y2="615.5" stroke="#000" stroke-width="1.25"/>
<path d="M1229.8 508.6 L1261.9 508.6 L1261.9 456 L1254.4 446 L1261.9 437.5 L1261.9 418.7 L1229.8 418.7 L1229.8 437.5 L1237.7 446 L1229.8 456 Z" fill="#E64B35" stroke="#000" stroke-width="1.1" stroke-linejoin="miter"/>
<line x1="1236.9" y1="615.5" x2="1254.4" y2="615.5" stroke="#000" stroke-width="1.35"/>
<line x1="1237.7" y1="446" x2="1254.4" y2="446" stroke="#FA8C1E" stroke-width="1.5"/>
</g>
<g clip-path="url(#cH)">
<line x1="1309" y1="564" x2="1309" y2="541.1" stroke="#000" stroke-width="1.25"/>
<line x1="1300.3" y1="541.1" x2="1317.7" y2="541.1" stroke="#000" stroke-width="1.35"/>
<line x1="1309" y1="590.2" x2="1309" y2="607.6" stroke="#000" stroke-width="1.25"/>
<path d="M1292.4 590.2 L1325.6 590.2 L1325.6 585.8 L1316.9 579.9 L1325.6 572 L1325.6 564 L1292.4 564 L1292.4 572 L1301.9 579.9 L1292.4 585.8 Z" fill="#4DBBD5" stroke="#000" stroke-width="1.1" stroke-linejoin="miter"/>
<line x1="1300.3" y1="607.6" x2="1317.7" y2="607.6" stroke="#000" stroke-width="1.35"/>
<line x1="1301.9" y1="579.9" x2="1316.9" y2="579.9" stroke="#FA8C1E" stroke-width="1.5"/>
</g>
<g clip-path="url(#cH)">
<line x1="1372.9" y1="491.6" x2="1372.9" y2="447.2" stroke="#000" stroke-width="1.25"/>
<line x1="1364.6" y1="447.2" x2="1381.2" y2="447.2" stroke="#000" stroke-width="1.35"/>
<line x1="1372.9" y1="543" x2="1372.9" y2="559.3" stroke="#000" stroke-width="1.25"/>
<path d="M1356.6 543 L1389.1 543 L1389.1 548.2 L1381.2 533.2 L1389.1 519.7 L1389.1 491.6 L1356.6 491.6 L1356.6 519.7 L1364.6 533.2 L1356.6 548.2 Z" fill="#00A087" stroke="#000" stroke-width="1.1" stroke-linejoin="miter"/>
<line x1="1364.6" y1="559.3" x2="1381.2" y2="559.3" stroke="#000" stroke-width="1.35"/>
<line x1="1364.6" y1="533.2" x2="1381.2" y2="533.2" stroke="#FA8C1E" stroke-width="1.5"/>
</g>
<g clip-path="url(#cH)">
<line x1="1436.2" y1="463.1" x2="1436.2" y2="449.2" stroke="#000" stroke-width="1.25"/>
<line x1="1427.9" y1="449.2" x2="1445" y2="449.2" stroke="#000" stroke-width="1.35"/>
<line x1="1436.2" y1="531.2" x2="1436.2" y2="581.1" stroke="#000" stroke-width="1.25"/>
<path d="M1420.4 531.2 L1452.9 531.2 L1452.9 491.5 L1445 472.2 L1452.9 453.2 L1452.9 463.1 L1420.4 463.1 L1420.4 453.2 L1427.9 472.2 L1420.4 491.5 Z" fill="#3C5488" stroke="#000" stroke-width="1.1" stroke-linejoin="miter"/>
<line x1="1427.9" y1="581.1" x2="1445" y2="581.1" stroke="#000" stroke-width="1.35"/>
<line x1="1427.9" y1="472.2" x2="1445" y2="472.2" stroke="#FA8C1E" stroke-width="1.5"/>
</g>
<g clip-path="url(#cH)">
<line x1="1500.5" y1="534.4" x2="1500.5" y2="525.7" stroke="#000" stroke-width="1.25"/>
<line x1="1492.6" y1="525.7" x2="1508" y2="525.7" stroke="#000" stroke-width="1.35"/>
<line x1="1500.5" y1="593.8" x2="1500.5" y2="614.5" stroke="#000" stroke-width="1.25"/>
<path d="M1484.3 593.8 L1516.4 593.8 L1516.4 584 L1508 568.1 L1516.4 556.2 L1516.4 534.4 L1484.3 534.4 L1484.3 556.2 L1492.6 568.1 L1484.3 584 Z" fill="#F39B7F" stroke="#000" stroke-width="1.1" stroke-linejoin="miter"/>
<line x1="1492.6" y1="614.5" x2="1508" y2="614.5" stroke="#000" stroke-width="1.35"/>
<line x1="1492.6" y1="568.1" x2="1508" y2="568.1" stroke="#FA8C1E" stroke-width="1.5"/>
</g>
<ellipse cx="1309" cy="511.8" rx="2.5" ry="2.8" fill="none" stroke="#000" stroke-width="1.2"/>
<ellipse cx="1309" cy="523.8" rx="2.5" ry="2.8" fill="none" stroke="#000" stroke-width="1.2"/>
<rect x="1213.7" y="374" width="318.3" height="252.3" fill="none" stroke="#3a3a3a" stroke-width="1.5"/>
<line x1="1208.7" y1="611.9" x2="1213.7" y2="611.9" stroke="#3a3a3a" stroke-width="1.1"/>
<text x="1208.2" y="617.9" font-size="21" font-weight="bold" fill="#000" text-anchor="end" textLength="34.4" lengthAdjust="spacingAndGlyphs">0.20</text>
<line x1="1208.7" y1="581.31" x2="1213.7" y2="581.31" stroke="#3a3a3a" stroke-width="1.1"/>
<text x="1208.2" y="587.31" font-size="21" font-weight="bold" fill="#000" text-anchor="end" textLength="34.4" lengthAdjust="spacingAndGlyphs">0.30</text>
<line x1="1208.7" y1="550.72" x2="1213.7" y2="550.72" stroke="#3a3a3a" stroke-width="1.1"/>
<text x="1208.2" y="556.72" font-size="21" font-weight="bold" fill="#000" text-anchor="end" textLength="34.4" lengthAdjust="spacingAndGlyphs">0.40</text>
<line x1="1208.7" y1="520.13" x2="1213.7" y2="520.13" stroke="#3a3a3a" stroke-width="1.1"/>
<text x="1208.2" y="526.13" font-size="21" font-weight="bold" fill="#000" text-anchor="end" textLength="34.4" lengthAdjust="spacingAndGlyphs">0.50</text>
<line x1="1208.7" y1="489.54" x2="1213.7" y2="489.54" stroke="#3a3a3a" stroke-width="1.1"/>
<text x="1208.2" y="495.54" font-size="21" font-weight="bold" fill="#000" text-anchor="end" textLength="34.4" lengthAdjust="spacingAndGlyphs">0.60</text>
<line x1="1208.7" y1="458.95" x2="1213.7" y2="458.95" stroke="#3a3a3a" stroke-width="1.1"/>
<text x="1208.2" y="464.95" font-size="21" font-weight="bold" fill="#000" text-anchor="end" textLength="34.4" lengthAdjust="spacingAndGlyphs">0.70</text>
<line x1="1208.7" y1="428.36" x2="1213.7" y2="428.36" stroke="#3a3a3a" stroke-width="1.1"/>
<text x="1208.2" y="434.36" font-size="21" font-weight="bold" fill="#000" text-anchor="end" textLength="34.4" lengthAdjust="spacingAndGlyphs">0.80</text>
<line x1="1208.7" y1="397.77" x2="1213.7" y2="397.77" stroke="#3a3a3a" stroke-width="1.1"/>
<text x="1208.2" y="403.77" font-size="21" font-weight="bold" fill="#000" text-anchor="end" textLength="34.4" lengthAdjust="spacingAndGlyphs">0.90</text>
<line x1="1245.3" y1="626.3" x2="1245.3" y2="630.8" stroke="#3a3a3a" stroke-width="1.1"/>
<line x1="1308.8" y1="626.3" x2="1308.8" y2="630.8" stroke="#3a3a3a" stroke-width="1.1"/>
<line x1="1372.5" y1="626.3" x2="1372.5" y2="630.8" stroke="#3a3a3a" stroke-width="1.1"/>
<line x1="1436.4" y1="626.3" x2="1436.4" y2="630.8" stroke="#3a3a3a" stroke-width="1.1"/>
<line x1="1499.9" y1="626.3" x2="1499.9" y2="630.8" stroke="#3a3a3a" stroke-width="1.1"/>
<text x="1217.7" y="651.4" font-size="21" font-weight="bold" fill="#000" textLength="70.3" lengthAdjust="spacingAndGlyphs">Between</text>
<text x="1299.2" y="651.4" font-size="21" font-weight="bold" fill="#000" textLength="23.4" lengthAdjust="spacingAndGlyphs">TS</text>
<text x="1358.2" y="651.4" font-size="21" font-weight="bold" fill="#000" textLength="34.6" lengthAdjust="spacingAndGlyphs">LTS</text>
<text x="1422.1" y="651.4" font-size="21" font-weight="bold" fill="#000" textLength="34.4" lengthAdjust="spacingAndGlyphs">FTS</text>
<text x="1486.1" y="651.4" font-size="21" font-weight="bold" fill="#000" textLength="34.6" lengthAdjust="spacingAndGlyphs">LFS</text>
<text transform="translate(1162.5 503.4) rotate(-90)" font-size="19.5" font-weight="bold" fill="#000" text-anchor="middle" textLength="81" lengthAdjust="spacingAndGlyphs">ANOSIM</text>
<text x="1285.7" y="398.7" font-size="20" font-weight="bold" fill="#000" textLength="198.9" lengthAdjust="spacingAndGlyphs">R=0.683; pValue=0.001</text>
</svg>
</body></html>
